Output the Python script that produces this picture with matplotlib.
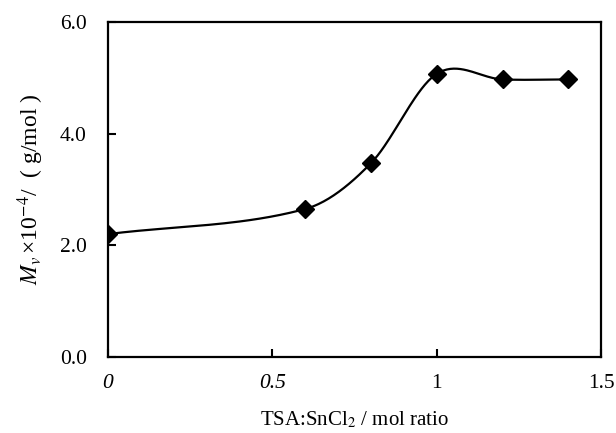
import numpy as np
import matplotlib.pyplot as plt

plt.rcParams['font.family'] = ['Liberation Serif', 'Noto Sans CJK SC']
plt.rcParams['mathtext.fontset'] = 'stix'

ratio = [0.0, 0.6, 0.8, 1.0, 1.2, 1.4]
mv = [2.20, 2.65, 3.47, 5.07, 4.97, 4.97]
x_ticks = [0, 0.5, 1, 1.5]
x_tick_labels = ["0", "0.5", "1", "1.5"]
y_ticks = [0.0, 2.0, 4.0, 6.0]


def smooth_curve(xs, ys, n=40):
    # cubic hermite through the points, slopes from neighbouring points
    xs = np.asarray(xs, float)
    ys = np.asarray(ys, float)
    m = np.zeros_like(ys)
    m[0] = (ys[1] - ys[0]) / (xs[1] - xs[0])
    m[1:-1] = (ys[2:] - ys[:-2]) / (xs[2:] - xs[:-2])
    m[-1] = 0.0
    cx, cy = [], []
    for i in range(len(xs) - 1):
        h = xs[i + 1] - xs[i]
        t = np.linspace(0, 1, n)
        h00 = 2 * t**3 - 3 * t**2 + 1
        h10 = t**3 - 2 * t**2 + t
        h01 = -2 * t**3 + 3 * t**2
        h11 = t**3 - t**2
        cx.append(xs[i] + t * h)
        cy.append(h00 * ys[i] + h10 * h * m[i] + h01 * ys[i + 1] + h11 * h * m[i + 1])
    return np.concatenate(cx), np.concatenate(cy)


fig = plt.figure(figsize=(6.16, 4.33), dpi=100)
ax = fig.add_axes([0.175, 0.1755, 0.801, 0.774])

cx, cy = smooth_curve(ratio, mv)
ax.plot(cx, cy, color='black', lw=1.6)
ax.plot(ratio, mv, 'D', color='black', markersize=9.5)

ax.set_xlim(0, 1.5)
ax.set_ylim(0, 6.0)
ax.set_xticks(x_ticks)
ax.set_xticklabels(x_tick_labels)
ax.set_yticks(y_ticks)
ax.set_yticklabels([f"{v:.1f}" for v in y_ticks])
for lbl in ax.get_xticklabels()[:2]:
    lbl.set_style('italic')
ax.tick_params(direction='in', length=6, width=1.5, labelsize=15.5)
ax.tick_params(axis='y', pad=15)
ax.tick_params(axis='x', pad=12)
for s in ax.spines.values():
    s.set_linewidth(1.6)

ax.set_xlabel("TSA:SnCl$_2$ / mol ratio", fontsize=15, labelpad=12)
ax.set_ylabel("$M_v\\,$×10$^{-4}$/  ( g/mol )", fontsize=17, labelpad=10)

fig.savefig("out.png", dpi=100)
